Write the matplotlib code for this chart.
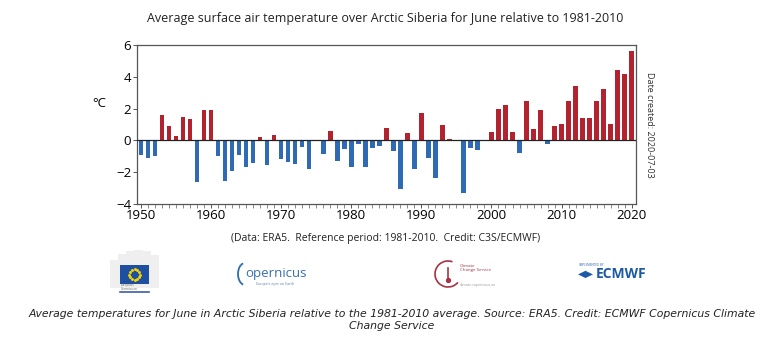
import numpy as np
import matplotlib
matplotlib.use("Agg")
import matplotlib.pyplot as plt
from matplotlib.patches import Rectangle, Arc

years = list(range(1950, 2021))
anomaly = [
    -0.95, -1.1, -1.0, 1.6, 0.9, 0.3, 1.5, 1.35, -2.6, 1.9,
    1.9, -1.0, -2.55, -1.95, -0.9, -1.7, -1.4, 0.2, -1.55, 0.35,
    -1.2, -1.35, -1.5, -0.4, -1.8, 0.05, -0.85, 0.6, -1.3, -0.55,
    -1.65, -0.2, -1.7, -0.45, -0.35, 0.75, -0.7, -3.05, 0.45, -1.8,
    1.7, -1.1, -2.35, 0.95, 0.1, 0.05, -3.3, -0.5, -0.6, 0.03,
    0.5, 2.0, 2.25, 0.55, -0.8, 2.5, 0.7, 1.9, -0.25, 0.9,
    1.05, 2.45, 3.4, 1.4, 1.4, 2.5, 3.25, 1.0, 4.4, 4.15,
    5.6,
]
yticks = [-4, -2, 0, 2, 4, 6]
xticks = [1950, 1960, 1970, 1980, 1990, 2000, 2010, 2020]

title = "Average surface air temperature over Arctic Siberia for June relative to 1981-2010"
credit = "(Data: ERA5.  Reference period: 1981-2010.  Credit: C3S/ECMWF)"
caption = ("Average temperatures for June in Arctic Siberia relative to the 1981-2010 average. "
           "Source: ERA5. Credit: ECMWF Copernicus Climate\nChange Service")

red = "#b3222f"
blue = "#2e6bb4"
sans = ["Open Sans", "DejaVu Sans"]

fig = plt.figure(figsize=(7.68, 3.41), dpi=100)
ax = fig.add_axes([0.178, 0.402, 0.650, 0.466])

colors = [red if v > 0 else blue for v in anomaly]
ax.bar(years, anomaly, width=0.66, color=colors, zorder=2)
ax.axhline(0, color="#222222", lw=0.9, zorder=3)

ax.set_xlim(1949.4, 2020.6)
ax.set_ylim(-4, 6)
ax.set_yticks(yticks)
ax.set_xticks(xticks)
ax.set_xticks(years, minor=True)
ax.tick_params(axis="both", labelsize=9.5, length=3, width=0.7, color="#555555", pad=1)
ax.tick_params(axis="x", which="minor", length=3, width=0.6, color="#777777")
for lab in ax.get_xticklabels() + ax.get_yticklabels():
    lab.set_family(sans)
for s in ax.spines.values():
    s.set_color("#555555")
    s.set_linewidth(0.9)

ax.text(-0.075, 0.63, "\u00b0C", transform=ax.transAxes, fontsize=9.5,
        family=sans, ha="center", va="center")
ax.text(1.027, 0.5, "Date created: 2020-07-03", transform=ax.transAxes,
        rotation=-90, fontsize=6.5, family=sans, color="#333333",
        ha="center", va="center")

fig.text(0.502, 0.945, title, fontsize=9, family=sans, ha="center", va="center", color="#222222")
fig.text(0.502, 0.302, credit, fontsize=7.5, family=sans, ha="center", va="center", color="#222222")

# logo strip, drawn in pixel coordinates
lg = fig.add_axes([0, 0, 1, 1], zorder=-1)
lg.set_xlim(0, 768)
lg.set_ylim(341, 0)
lg.axis("off")

# European Commission
for x0, h in [(110, 28), (118, 34), (126, 37), (134, 38), (142, 37), (150, 33)]:
    lg.add_patch(Rectangle((x0, 288 - h), 9, h, color="#efefef", lw=0))
lg.add_patch(Rectangle((120, 265), 29, 19, color="#1e4fa0", lw=0))
ang = np.linspace(0, 2 * np.pi, 12, endpoint=False)
lg.scatter(134.5 + 5.5 * np.cos(ang), 274.5 + 5.5 * np.sin(ang), s=1.2, color="#f5d400", zorder=3)
lg.text(121, 287, "European\nCommission", fontsize=2.2, color="#666666", va="center", family=sans)
lg.plot([120, 149], [292, 292], color="#3a5fa8", lw=1.2)

# Copernicus
lg.add_patch(Arc((245, 274), 14, 22, theta1=100, theta2=260, color="#2f6cb0", lw=1.3))
lg.text(245, 274, "opernicus", fontsize=9.5, color="#3a6fb0", va="center", family=sans)
lg.text(256, 284, "Europe's eyes on Earth", fontsize=2.6, color="#5a7fb8", va="center", family=sans)

# Climate Change Service
lg.add_patch(Arc((448, 274), 26, 26, theta1=40, theta2=290, color="#a83245", lw=1.2))
lg.plot([448, 448], [268, 279], color="#a83245", lw=1.2)
lg.scatter([448], [280], s=8, color="#a83245")
lg.text(460, 268, "Climate\nChange Service", fontsize=3.2, color="#a83245", va="center", family=sans)
lg.text(460, 285, "climate.copernicus.eu", fontsize=2.6, color="#999999", va="center", family=sans)

# ECMWF
lg.text(579, 265, "IMPLEMENTED BY", fontsize=2.2, color="#2c62ad", va="center", family=sans)
lg.text(578, 274, "\u25c0\u25b6", fontsize=7.5, color="#1d5aa6", va="center", family=["DejaVu Sans"])
lg.text(596, 274, "ECMWF", fontsize=10, color="#1d5aa6", va="center", weight="bold", family=sans)

lg.text(392, 320, caption, fontsize=7.8, style="italic", family=["DejaVu Sans"],
        ha="center", va="center", color="#222222", linespacing=1.3)

fig.savefig("out.png", dpi=100)
